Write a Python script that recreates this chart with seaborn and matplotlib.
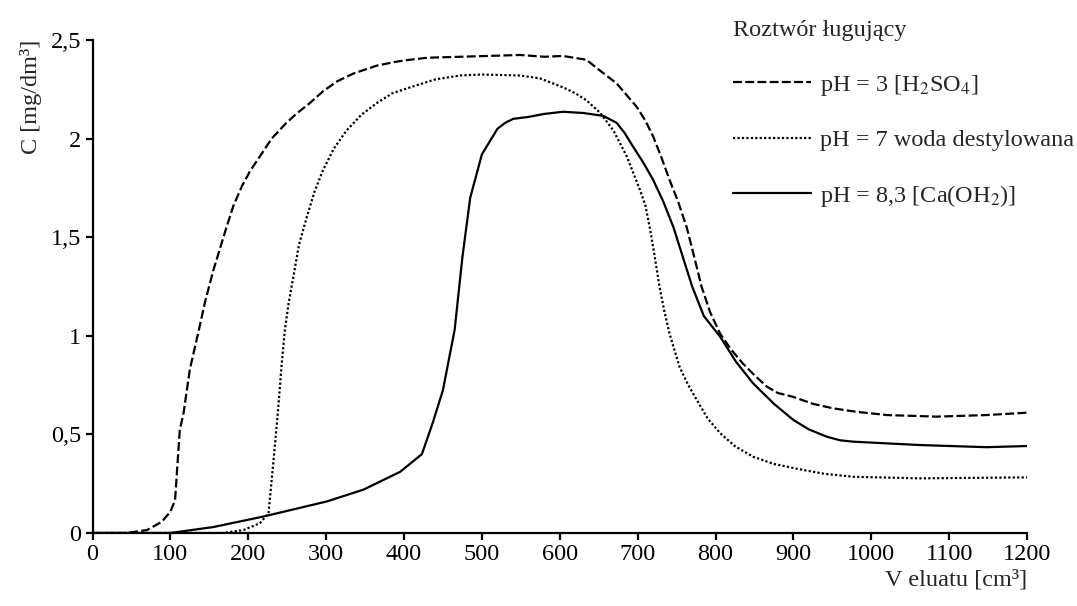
# Breakthrough curves: C vs eluate volume for three leaching solutions
import numpy as np
import matplotlib.pyplot as plt
import pandas as pd
import seaborn as sns

# data
acid_v = [0, 44, 70, 89, 100, 106, 112, 117, 125, 136, 145, 155, 172, 181, 192, 203, 215, 230,
          249, 263, 279, 296, 314, 335, 365, 390, 408, 430, 472, 549, 580, 604, 634, 650, 673,
          686, 699, 710, 720, 730, 741, 752, 763, 772, 782, 793, 806, 820, 835, 850, 866, 880,
          900, 925, 951, 980, 1020, 1084, 1148, 1200]
acid_c = [0, 0, 0.015, 0.057, 0.108, 0.167, 0.52, 0.61, 0.83, 1.02, 1.18, 1.33, 1.55, 1.66, 1.76,
          1.84, 1.91, 2.0, 2.08, 2.13, 2.18, 2.24, 2.29, 2.33, 2.37, 2.39, 2.40, 2.41, 2.415,
          2.424, 2.415, 2.419, 2.40, 2.35, 2.28, 2.22, 2.16, 2.09, 2.01, 1.91, 1.79, 1.68, 1.55,
          1.41, 1.25, 1.12, 1.01, 0.93, 0.86, 0.80, 0.742, 0.71, 0.69, 0.655, 0.632, 0.615,
          0.598, 0.59, 0.598, 0.61]

water_v = [0, 168, 194, 215, 226, 232, 238, 243, 247, 252, 258, 265, 275, 285, 296, 310, 326, 345,
           365, 385, 408, 440, 472, 500, 549, 575, 604, 620, 634, 652, 669, 686, 703, 710, 716,
           722, 728, 734, 741, 754, 765, 776, 790, 806, 825, 848, 875, 912, 940, 977, 1062, 1200]
water_c = [0, 0, 0.015, 0.05, 0.10, 0.35, 0.61, 0.86, 1.03, 1.17, 1.30, 1.46, 1.60, 1.73, 1.84,
           1.95, 2.04, 2.12, 2.18, 2.23, 2.26, 2.30, 2.32, 2.325, 2.32, 2.305, 2.26, 2.23, 2.195,
           2.13, 2.04, 1.91, 1.74, 1.66, 1.54, 1.40, 1.25, 1.13, 1.01, 0.84, 0.75, 0.674, 0.58,
           0.506, 0.44, 0.387, 0.35, 0.32, 0.30, 0.285, 0.277, 0.282]

base_v = [0, 100, 155, 219, 301, 348, 395, 423, 437, 450, 465, 475, 485, 500, 520, 530, 540, 560,
          580, 604, 630, 656, 673, 683, 694, 707, 720, 733, 746, 758, 770, 785, 806, 826, 848,
          875, 900, 920, 943, 960, 977, 1062, 1148, 1200]
base_c = [0, 0, 0.03, 0.083, 0.16, 0.22, 0.31, 0.40, 0.56, 0.725, 1.03, 1.4, 1.7, 1.92, 2.05,
          2.08, 2.1, 2.11, 2.125, 2.136, 2.13, 2.115, 2.08, 2.03, 1.96, 1.88, 1.79, 1.68, 1.55,
          1.40, 1.25, 1.10, 0.995, 0.87, 0.76, 0.655, 0.573, 0.525, 0.488, 0.47, 0.463, 0.446,
          0.435, 0.441]

labels = [r"pH = 3 [H$_2$SO$_4$]", "pH = 7 woda destylowana", r"pH = 8,3 [Ca(OH$_2$)]"]
y_ticks = [0, 0.5, 1, 1.5, 2, 2.5]
y_tick_labels = ["0", "0,5", "1", "1,5", "2", "2,5"]
x_ticks = list(range(0, 1201, 100))

df = pd.concat([
    pd.DataFrame({"V": acid_v, "C": acid_c, "roztwor": labels[0]}),
    pd.DataFrame({"V": water_v, "C": water_c, "roztwor": labels[1]}),
    pd.DataFrame({"V": base_v, "C": base_c, "roztwor": labels[2]}),
])

sns.set_style("ticks")
plt.rcParams["font.family"] = ["Liberation Serif", "DejaVu Serif"]
plt.rcParams["mathtext.fontset"] = "stix"
fs = 17.5

fig = plt.figure(figsize=(10.77, 6.06), dpi=100)
ax = fig.add_axes([0.0859, 0.1205, 0.9536 - 0.0859, 0.934 - 0.1205])

sns.lineplot(data=df, x="V", y="C", style="roztwor", color="black", linewidth=1.6,
             dashes={labels[0]: (4, 1.5), labels[1]: (1, 1), labels[2]: ""},
             sort=False, estimator=None, ax=ax)

ax.set_xlim(0, 1200)
ax.set_ylim(0, 2.5)
ax.set_xticks(x_ticks)
ax.set_yticks(y_ticks)
ax.set_yticklabels(y_tick_labels)
sns.despine(ax=ax)
for s in ["left", "bottom"]:
    ax.spines[s].set_linewidth(1.6)
    ax.spines[s].set_color("black")
ax.tick_params(direction="out", length=5, width=1.6, colors="black", labelsize=fs, pad=3)

ax.set_xlabel("V eluatu [cm³]", fontsize=fs)
ax.xaxis.set_label_coords(1.0, -0.075)
ax.xaxis.label.set_horizontalalignment("right")
ax.set_ylabel("C [mg/dm³]", fontsize=fs)
ax.yaxis.set_label_coords(-0.066, 1.0)
ax.yaxis.label.set_verticalalignment("center")
ax.yaxis.label.set_horizontalalignment("right")

handles, _ = ax.get_legend_handles_labels()
ax.legend(handles=handles, labels=labels, title="Roztwór ługujący", frameon=False,
          loc="upper left", bbox_to_anchor=(733 / 1077, 1 - 20 / 606),
          bbox_transform=fig.transFigure, borderpad=0, borderaxespad=0,
          handlelength=3.2, handletextpad=0.4, labelspacing=1.3,
          fontsize=fs, title_fontsize=fs, alignment="left")

fig.savefig("out.png", dpi=100)
